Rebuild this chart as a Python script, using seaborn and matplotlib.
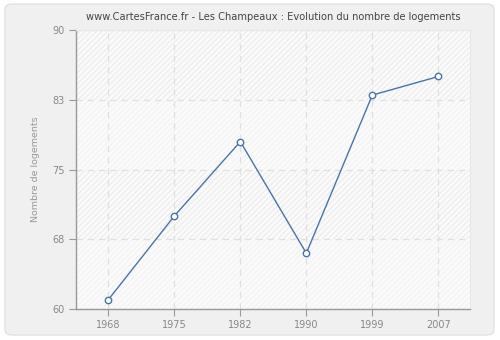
import matplotlib
matplotlib.use("Agg")
import matplotlib.pyplot as plt
import seaborn as sns
import pandas as pd
from matplotlib.patches import FancyBboxPatch

years = ["1968", "1975", "1982", "1990", "1999", "2007"]
logements = [61, 70, 78, 66, 83, 85]
ytick_values = [60, 67.5, 75, 82.5, 90]
ytick_labels = ["60", "68", "75", "83", "90"]

title = "www.CartesFrance.fr - Les Champeaux : Evolution du nombre de logements"
ylabel = "Nombre de logements"

sns.set_theme(style="white")
plt.rcParams['font.family'] = ['DejaVu Sans']
plt.rcParams['hatch.linewidth'] = 0.6

df = pd.DataFrame({"annee": years, "logements": logements})

fig = plt.figure(figsize=(5.0, 3.4), dpi=100)
fig.patch.set_facecolor("white")
bg = FancyBboxPatch((5 / 500, 5 / 340), 489 / 500, 331 / 340,
                    boxstyle="round,pad=0,rounding_size=0.015",
                    transform=fig.transFigure, facecolor="#f0f0f0",
                    edgecolor="#e2e2e2", linewidth=1.0, zorder=-10)
fig.patches.append(bg)

ax = fig.add_axes([76 / 500, 1 - 309 / 340, (470 - 76) / 500, (309 - 30) / 340])
ax.set_zorder(1)
ax.set_facecolor("#f9f9f9")

# alternating hatched bands
for lo, hi, hc in [(82.5, 90, "#e8e8e8"), (75, 82.5, "#f1f1f1"),
                   (67.5, 75, "#e8e8e8"), (60, 67.5, "#f1f1f1")]:
    ax.axhspan(lo, hi, facecolor="#fafafa", edgecolor=hc, hatch="//////",
               linewidth=0, zorder=0)

sns.lineplot(data=df, x="annee", y="logements", ax=ax, color="#4a74a8",
             linewidth=1.0, marker="o", markersize=4.6,
             markerfacecolor="white", markeredgecolor="#4a74a8",
             markeredgewidth=1.0, zorder=3)

ax.set_xlim(-0.49, 5.48)
ax.set_ylim(60, 90)
ax.set_yticks(ytick_values)
ax.set_yticklabels(ytick_labels)

ax.grid(True, color="#e0e0e0", linestyle=(0, (5, 4)), linewidth=0.9, zorder=1)
ax.set_axisbelow(True)

for s in ["top", "right"]:
    ax.spines[s].set_visible(True)
    ax.spines[s].set_color("#e8e8e8")
    ax.spines[s].set_linewidth(0.8)
for s in ["left", "bottom"]:
    ax.spines[s].set_color("#999999")
    ax.spines[s].set_linewidth(1.0)

ax.tick_params(axis="both", which="both", direction="out", length=5,
               width=0.8, color="#999999", labelcolor="#888888", labelsize=7,
               bottom=True, left=True, top=False, right=False, pad=3)

ax.set_xlabel("")
ax.set_ylabel(ylabel, color="#999999", fontsize=6.8, labelpad=9)
ax.set_title(title, fontsize=7.1, color="#444444", pad=7)

fig.savefig("out.png", dpi=100, facecolor=fig.get_facecolor())
